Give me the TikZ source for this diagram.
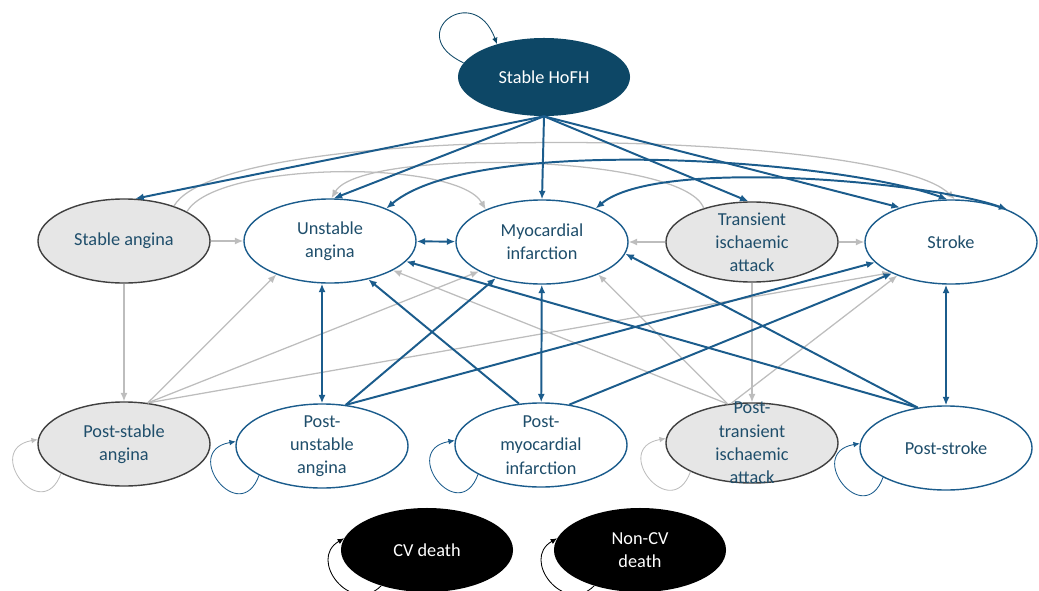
\documentclass[tikz,border=0pt]{standalone}
\usepackage{fontspec}
\setmainfont{Carlito}
\usetikzlibrary{arrows.meta,shapes.geometric}
\definecolor{hofhblue}{HTML}{0D4766}
\definecolor{arrblue}{HTML}{1B5C8C}
\definecolor{txtblue}{HTML}{1F4E6B}
\definecolor{arrgray}{HTML}{BDBDBD}
\definecolor{nodegray}{HTML}{E6E6E6}
\definecolor{rimgray}{HTML}{404040}

\begin{document}
\begin{tikzpicture}[x=0.025cm,y=-0.025cm,>={Latex[length=6pt,width=5pt]},
  every node/.style={ellipse,minimum width=4.3cm,minimum height=2.1cm,inner xsep=0pt,inner ysep=-10pt,
    align=center,font=\fontsize{13}{16.5}\selectfont,text=txtblue},
  wnode/.style={draw=arrblue,line width=1pt,fill=white},
  gnode/.style={draw=rimgray,line width=1pt,fill=nodegray},
  dnode/.style={fill=black,text=white},
  blu/.style={draw=arrblue,line width=1.4pt},
  gry/.style={draw=arrgray,line width=0.9pt},
  ring/.style={line width=0.6pt,->,>={Latex[length=4.5pt,width=4pt]}}]
  \useasboundingbox (0,0) rectangle (1039,591);

  \node[fill=hofhblue,text=white,minimum height=1.95cm] (hofh) at (544,77) {Stable HoFH};
  \node[gnode] (sa) at (124,241) {Stable angina};
  \node[wnode] (ua) at (330,241) {Unstable\\angina};
  \node[wnode] (mi) at (542,242) {Myocardial\\infarction};
  \node[gnode,minimum height=2cm] (tia) at (752,242) {Transient\\ischaemic\\attack};
  \node[wnode] (st) at (951,242) {Stroke};
  \node[gnode] (psa) at (124,444) {Post-stable\\angina};
  \node[wnode] (pua) at (322,446) {Post-\\unstable\\angina};
  \node[wnode] (pmi) at (541,445) {Post-\\myocardial\\infarction};
  \node[gnode,minimum height=2cm] (ptia) at (752,443) {Post-\\transient\\ischaemic\\attack};
  \node[wnode] (pst) at (946,448) {Post-stroke};
  \node[dnode] (cvd) at (427,550) {CV death};
  \node[dnode] (ncvd) at (640,550) {Non-CV\\death};

  % gray moves
  \draw[gry,->] (sa.25) to[out=60,in=120,looseness=0.5] (mi.150);
  \draw[gry,->] (sa.35) to[out=60,in=135,looseness=0.33] (st.85);
  \draw[gry,->] (tia.145) to[out=110,in=60,looseness=0.4] (ua.88);
  \draw[gry,->] (sa) -- (ua);
  \draw[gry,->] (tia) -- (mi);
  \draw[gry,->] (tia) -- (st);
  \draw[gry,->] (sa) -- (psa);
  \draw[gry,->] (tia) -- (ptia);
  \draw[gry,->] (psa.60) -- (ua.212);
  \draw[gry,->] (psa.60) -- (mi.205);
  \draw[gry,->] (psa.60) -- (st.207);
  \draw[gry,->] (ptia.122) -- (ua.335);
  \draw[gry,->] (ptia.122) -- (mi.330);
  \draw[gry,->] (ptia.118) -- (st.212);

  % blue moves
  \draw[blu,->] (hofh.south) -- (sa.75);
  \draw[blu,->] (hofh.south) -- (ua.85);
  \draw[blu,->] (hofh.south) -- (mi.north);
  \draw[blu,->] (hofh.south) -- (tia.95);
  \draw[blu,->] (hofh.south) -- (st.146);
  \draw[blu,<->] (ua.30) to[out=40,in=160,looseness=0.53] (st.95);
  \draw[blu,<->] (mi.32) to[out=40,in=160,looseness=0.5] (st.30);
  \draw[blu,<->] (ua) -- (mi);
  \draw[blu,<->] (ua.south -| pua.north) -- (pua.north);
  \draw[blu,<->] (mi) -- (pmi);
  \draw[blu,<->] (st.south -| pst.north) -- (pst.north);
  \draw[blu,->] (pua.60) -- (mi.218);
  \draw[blu,->] (pua.60) -- (st.195);
  \draw[blu,->] (pmi.118) -- (ua.315);
  \draw[blu,->] (pmi.55) -- (st.208);
  \draw[blu,->] (pst.125) -- (ua.345);
  \draw[blu,->] (pst.125) -- (mi.352);

  % staying put
  \draw[ring,draw=hofhblue] (hofh.170) to[out=155,in=110,looseness=4.5] (hofh.145);
  \draw[ring,draw=arrgray] (psa.205) to[out=250,in=190,looseness=3.5] (psa.177);
  \draw[ring,draw=arrblue] (pua.205) to[out=250,in=190,looseness=3.5] (pua.177);
  \draw[ring,draw=arrblue] (pmi.205) to[out=250,in=190,looseness=3.5] (pmi.177);
  \draw[ring,draw=arrgray] (ptia.205) to[out=250,in=190,looseness=3.5] (ptia.177);
  \draw[ring,draw=arrblue] (pst.205) to[out=250,in=190,looseness=3.5] (pst.177);
  \draw[ring,draw=black] (cvd.218) to[out=225,in=210,looseness=1.8] (cvd.172);
  \draw[ring,draw=black] (ncvd.218) to[out=225,in=210,looseness=1.8] (ncvd.172);
\end{tikzpicture}
\end{document}
